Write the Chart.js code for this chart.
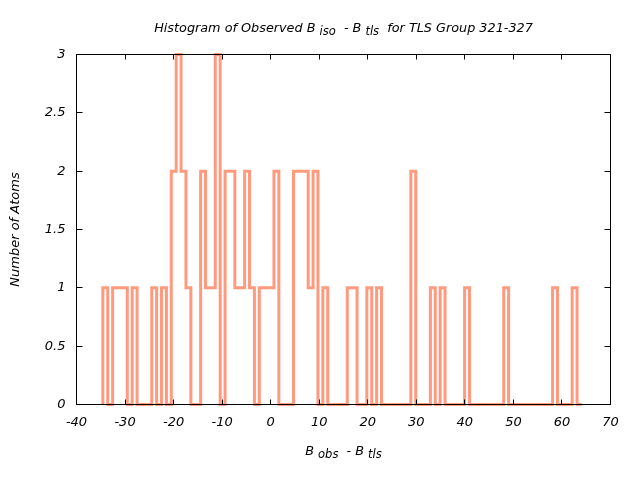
<!DOCTYPE html>
<html><head><meta charset="utf-8">
<script src="https://cdn.jsdelivr.net/npm/chart.js@4/dist/chart.umd.min.js"></script>
<style>html,body{margin:0;padding:0;background:#fff}</style>
</head><body>
<canvas id="c" width="640" height="480"></canvas>
<script>
// ---- data ----
const binStart = -34.57;   // left edge of first bin
const binWidth = 1.007;    // width of each bin
const counts = [
  1,0,1,1,1,0,1,0,0,0,
  1,0,1,0,2,3,2,1,0,0,
  2,1,1,3,0,2,2,1,1,2,
  1,0,1,1,1,2,0,0,0,2,
  2,2,1,2,0,1,0,0,0,0,
  1,1,0,0,1,0,1,0,0,0,
  0,0,0,2,0,0,0,1,0,1,
  0,0,0,0,1,0,0,0,0,0,
  0,0,1,0,0,0,0,0,0,0,
  0,0,1,0,0,0,1,0
];
const xTicks = [-40,-30,-20,-10,0,10,20,30,40,50,60,70];
const yTicks = [0,0.5,1,1.5,2,2.5,3];
const titleParts = [["Histogram of Observed B ",0],["iso",1],["  - B ",0],["tls",1],["  for TLS Group 321-327",0]];
const xTitleParts = [["B ",0],["obs",1],["  - B ",0],["tls",1]];
const yTitle = "Number of Atoms";

// step points built from the bins
const pts = [{x: binStart, y: 0}];
counts.forEach((c, i) => pts.push({x: binStart + i * binWidth, y: c}));
pts.push({x: binStart + counts.length * binWidth, y: 0});

const FONT = "'DejaVu Sans', sans-serif";
function rich(ctx, parts, cx, base, size, subSize, drop) {
  let widths = parts.map(p => { ctx.font = "italic " + (p[1] ? subSize : size) + "px " + FONT; return ctx.measureText(p[0]).width; });
  let total = widths.reduce((a, b) => a + b, 0);
  let x = cx - total / 2;
  ctx.textAlign = 'left'; ctx.textBaseline = 'alphabetic';
  parts.forEach((p, i) => {
    ctx.font = "italic " + (p[1] ? subSize : size) + "px " + FONT;
    ctx.fillText(p[0], x, base + (p[1] ? drop : 0));
    x += widths[i];
  });
}

const decor = {
  id: 'decor',
  afterDatasetsDraw(chart) {
    const {ctx, chartArea: a, scales: {x, y}} = chart;
    ctx.save();
    ctx.strokeStyle = '#000'; ctx.lineWidth = 1;
    ctx.strokeRect(a.left, a.top, a.right - a.left, a.bottom - a.top);
    ctx.beginPath();
    xTicks.forEach(v => {
      const px = Math.round(x.getPixelForValue(v) - 0.5) + 0.5;
      ctx.moveTo(px, a.bottom); ctx.lineTo(px, a.bottom - 5);
      ctx.moveTo(px, a.top); ctx.lineTo(px, a.top + 5);
    });
    yTicks.forEach(v => {
      const py = Math.round(y.getPixelForValue(v) - 0.5) + 0.5;
      ctx.moveTo(a.left, py); ctx.lineTo(a.left + 6, py);
      ctx.moveTo(a.right, py); ctx.lineTo(a.right - 6, py);
    });
    ctx.stroke();
    ctx.fillStyle = '#000';
    const cx = (a.left + a.right) / 2;
    rich(ctx, titleParts, cx, 32, 12.8, 11.5, 3);
    rich(ctx, xTitleParts, cx, 455, 12.8, 11.5, 3);
    ctx.translate(19, (a.top + a.bottom) / 2);
    ctx.rotate(-Math.PI / 2);
    ctx.font = "italic 13px " + FONT;
    ctx.textAlign = 'center'; ctx.textBaseline = 'alphabetic';
    ctx.fillText(yTitle, 0, 0);
    ctx.restore();
  }
};

new Chart(document.getElementById('c'), {
  type: 'line',
  data: { datasets: [{
    data: pts, stepped: true, borderColor: '#ff9a7e', borderWidth: 3,
    pointRadius: 0, fill: false, clip: false, tension: 0
  }]},
  options: {
    responsive: false, animation: false,
    layout: { padding: { top: 54.5, right: 29.5, left: 0, bottom: 0 } },
    plugins: { legend: { display: false }, tooltip: { enabled: false }, title: { display: false } },
    scales: {
      x: {
        type: 'linear', min: -40, max: 70,
        afterBuildTicks: s => { s.ticks = xTicks.map(v => ({value: v})); },
        afterFit: s => { s.height = 75.5; },
        grid: { display: false, drawTicks: false }, border: { display: false },
        ticks: { padding: 10, color: '#000', font: { family: FONT, size: 13, style: 'italic' }, maxRotation: 0, autoSkip: false,
                 callback: v => String(v) }
      },
      y: {
        type: 'linear', min: 0, max: 3,
        afterBuildTicks: s => { s.ticks = yTicks.map(v => ({value: v})); },
        afterFit: s => { s.width = 76.5; },
        grid: { display: false, drawTicks: false }, border: { display: false },
        ticks: { padding: 11, color: '#000', font: { family: FONT, size: 13, style: 'italic' }, autoSkip: false,
                 callback: v => String(v) }
      }
    }
  },
  plugins: [decor]
});
</script>
</body></html>
